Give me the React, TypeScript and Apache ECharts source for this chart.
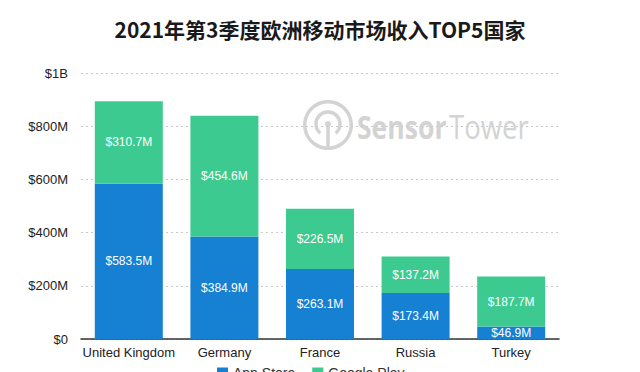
import React, { useEffect, useRef } from "react";
import * as echarts from "echarts";

const categories = ["United Kingdom", "Germany", "France", "Russia", "Turkey"];
const appStore = [583.5, 384.9, 263.1, 173.4, 46.9];
const googlePlay = [310.7, 454.6, 226.5, 137.2, 187.7];
const seriesNames = ["App Store", "Google Play"];
const titleText = "2021年第3季度欧洲移动市场收入TOP5国家";

const BLUE = "#1681d3";
const GREEN = "#3dca91";
const WM = "#d3d3d3";

export default function App() {
  const ref = useRef<HTMLDivElement>(null);
  useEffect(() => {
    if (!ref.current) return;
    const chart = echarts.init(ref.current, null, { renderer: "svg" });
    const fmtLabel = (p: any) => "$" + Number(p.value).toFixed(1) + "M";
    chart.setOption({
      animation: false,
      backgroundColor: "#ffffff",
      title: {
        text: titleText,
        left: "center",
        top: 18,
        padding: 0,
        textStyle: {
          fontFamily: "Noto Sans CJK SC",
          fontSize: 21,
          fontWeight: "bold",
          color: "#1a1a1a",
        },
      },
      legend: {
        data: seriesNames,
        left: 217,
        top: 366,
        padding: 0,
        itemWidth: 11,
        itemHeight: 11,
        itemGap: 17,
        icon: "rect",
        textStyle: { fontFamily: "Liberation Sans", fontSize: 14, color: "#333" },
      },
      grid: { left: 81, right: 81, top: 73, bottom: 33, containLabel: false },
      xAxis: {
        type: "category",
        data: categories,
        axisLine: { lineStyle: { color: "#333", width: 1.5 } },
        axisTick: { show: false },
        axisLabel: {
          interval: 0,
          fontFamily: "Liberation Sans",
          fontSize: 13,
          color: "#222",
          margin: 7,
        },
      },
      yAxis: {
        type: "value",
        min: 0,
        max: 1000,
        interval: 200,
        axisLine: { show: false },
        axisTick: { show: false },
        splitLine: { lineStyle: { color: "#c8c8c8", type: [2, 3], width: 1 } },
        axisLabel: {
          fontFamily: "Liberation Sans",
          fontSize: 13,
          color: "#222",
          margin: 13,
          formatter: (v: number) =>
            v === 0 ? "$0" : v >= 1000 ? "$" + v / 1000 + "B" : "$" + v + "M",
        },
      },
      graphic: [
        {
          type: "group",
          silent: true,
          z: 0,
          children: [
            { type: "ring", shape: { cx: 328, cy: 125, r: 25, r0: 21.5 }, style: { fill: WM } },
            {
              type: "arc",
              shape: { cx: 328, cy: 124, r: 12, startAngle: Math.PI * 0.72, endAngle: Math.PI * 0.28 },
              style: { stroke: WM, lineWidth: 3.5, fill: "none" },
            },
            { type: "line", shape: { x1: 328, y1: 124, x2: 328, y2: 147 }, style: { stroke: WM, lineWidth: 3.5 } },
            { type: "circle", shape: { cx: 328, cy: 124, r: 3 }, style: { fill: WM } },
            {
              type: "text",
              x: 357,
              y: 127,
              scaleX: 0.83,
              style: {
                text: "Sensor",
                fontFamily: "Open Sans",
                fontSize: 32,
                fontWeight: "bold",
                fill: WM,
                verticalAlign: "middle",
              },
            },
            {
              type: "text",
              x: 449,
              y: 127,
              scaleX: 0.86,
              style: {
                text: "Tower",
                fontFamily: "Open Sans",
                fontSize: 32,
                fill: WM,
                verticalAlign: "middle",
              },
            },
          ],
        },
      ],
      series: [
        {
          name: seriesNames[0],
          type: "bar",
          stack: "total",
          data: appStore,
          barWidth: 68,
          itemStyle: { color: BLUE },
          label: {
            show: true,
            position: "inside",
            color: "#fff",
            fontFamily: "Liberation Sans",
            fontSize: 12,
            formatter: fmtLabel,
          },
        },
        {
          name: seriesNames[1],
          type: "bar",
          stack: "total",
          data: googlePlay,
          barWidth: 68,
          itemStyle: { color: GREEN },
          label: {
            show: true,
            position: "inside",
            color: "#fff",
            fontFamily: "Liberation Sans",
            fontSize: 12,
            formatter: fmtLabel,
          },
        },
      ],
    });
    return () => chart.dispose();
  }, []);
  return (
    <div
      ref={ref}
      style={{ position: "fixed", left: 0, top: 0, width: 640, height: 372 }}
    />
  );
}
